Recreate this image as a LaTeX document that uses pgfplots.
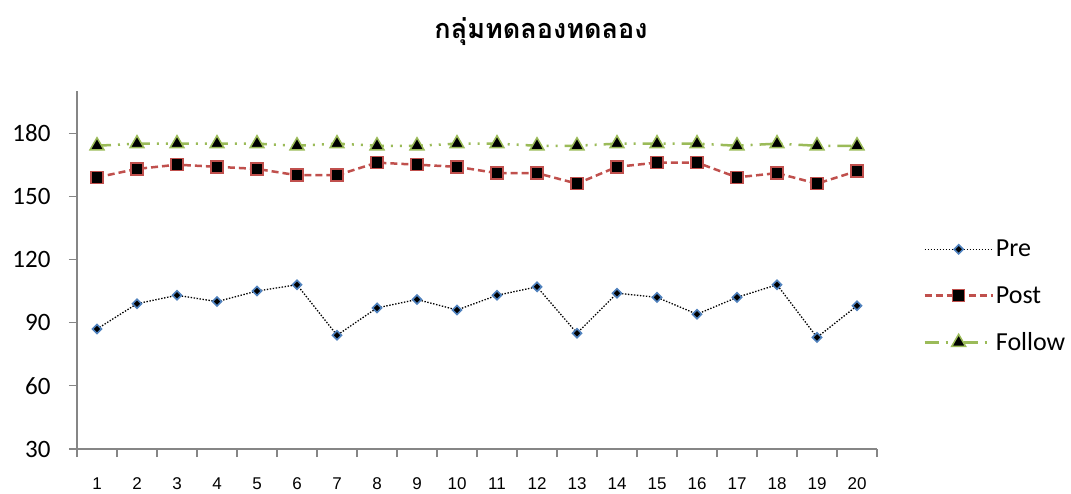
\documentclass[border=0pt]{standalone}
\usepackage{pgfplots}
\pgfplotsset{compat=1.18}
\usepackage{fontspec}
\setmainfont{Carlito}
\newfontfamily\thaifont[Script=Thai]{Loma}
\newfontfamily\arialf{Liberation Sans}
\definecolor{preblue}{HTML}{4F81BD}
\definecolor{postred}{HTML}{C0504D}
\definecolor{folgreen}{HTML}{9BBB59}
\definecolor{axgray}{HTML}{868686}
\begin{document}
\begin{tikzpicture}[x=1pt,y=1pt]
\path[use as bounding box] (0,0) rectangle (1071,493);
\node[font=\thaifont\bfseries\fontsize{27}{30}\selectfont] at (541,461) {กลุ่มทดลองทดลอง};
\begin{axis}[
  at={(77pt,44pt)}, anchor=south west,
  scale only axis, width=800pt, height=358pt,
  xmin=0.5, xmax=20.5, ymin=30, ymax=200,
  axis x line*=bottom, axis y line*=left,
  axis line style={-, draw=axgray, line width=1.5pt},
  xtick={1,...,20}, major x tick style={draw=none},
  minor xtick={0.5,1.5,...,20.5},
  minor tick length=8pt,
  ytick={30,60,...,180}, major tick length=8pt,
  tick align=outside,
  every tick/.style={draw=axgray, line width=1.2pt},
  /pgf/number format/assume math mode=true,
  yticklabel style={font=\fontsize{25}{25}\selectfont, xshift=-15pt},
  xticklabel style={font=\arialf\fontsize{17}{17}\selectfont, yshift=-17pt},
  legend style={at={(1.054,0.427)}, anchor=west, draw=none, fill=none,
    font=\fontsize{26}{26}\selectfont, row sep=24pt, cells={anchor=west}},
  legend image code/.code={\draw[#1, mark repeat=2, mark phase=2] plot coordinates {(0pt,0pt) (34pt,0pt) (68pt,0pt)};},
  clip=false,
]
\addplot[black, line width=1.3pt, dash pattern=on 1.4pt off 1.6pt,
  mark=square*, mark size=3.2pt, mark options={solid, rotate=45, fill=black, draw=preblue, line width=1.6pt}]
coordinates {(1,87)(2,99)(3,103)(4,100)(5,105)(6,108)(7,84)(8,97)(9,101)(10,96)
(11,103)(12,107)(13,85)(14,104)(15,102)(16,94)(17,102)(18,108)(19,83)(20,98)};
\addlegendentry{Pre}
\addplot[postred, line width=2.5pt, dash pattern=on 7pt off 4pt,
  mark=square*, mark size=6pt, mark options={solid, fill=black, draw=postred, line width=1.5pt}]
coordinates {(1,159)(2,163)(3,165)(4,164)(5,163)(6,160)(7,160)(8,166)(9,165)(10,164)
(11,161)(12,161)(13,156)(14,164)(15,166)(16,166)(17,159)(18,161)(19,156)(20,162)};
\addlegendentry{Post}
\addplot[folgreen, line width=2.5pt, dash pattern=on 14pt off 7pt on 2pt off 7pt on 2pt off 7pt,
  mark=triangle*, mark size=8pt, mark options={solid, fill=black, draw=folgreen, line width=1.5pt}]
coordinates {(1,174)(2,175)(3,175)(4,175)(5,175)(6,174)(7,175)(8,174)(9,174)(10,175)
(11,175)(12,174)(13,174)(14,175)(15,175)(16,175)(17,174)(18,175)(19,174)(20,174)};
\addlegendentry{Follow}
\end{axis}
\end{tikzpicture}
\end{document}
